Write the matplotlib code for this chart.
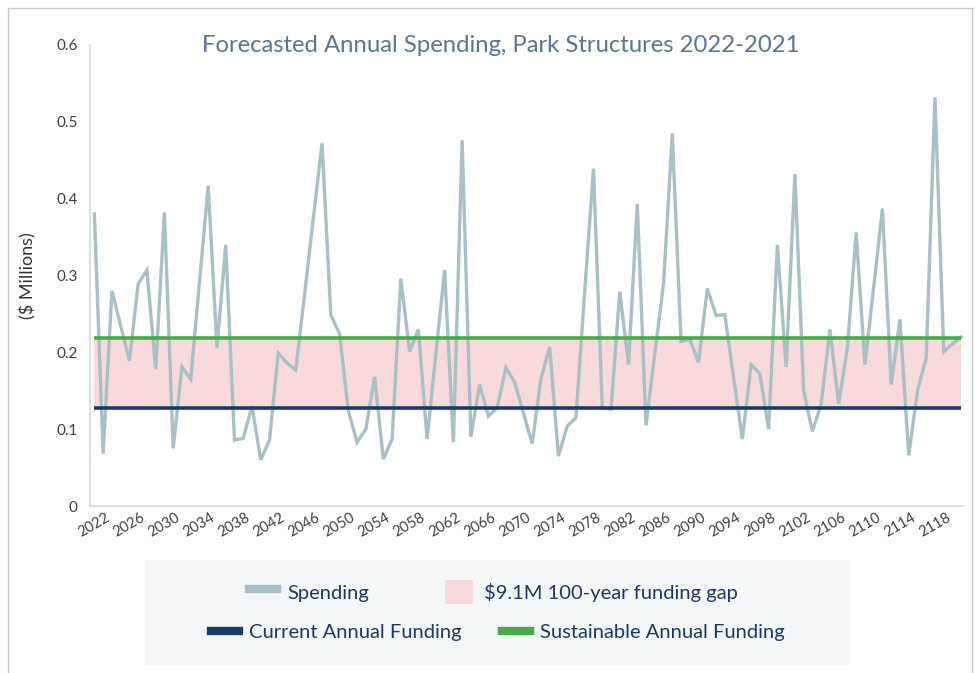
import matplotlib as mpl

mpl.use('Agg')
import matplotlib.pyplot as plt
from matplotlib.lines import Line2D
from matplotlib.patches import Patch, Rectangle
import numpy as np

#### Data ####
years = list(range(2022, 2122))
spending = [0.380, 0.068, 0.280, 0.235, 0.189, 0.289, 0.307, 0.178, 0.382, 0.075,
            0.181, 0.165, 0.291, 0.417, 0.206, 0.340, 0.086, 0.088, 0.130, 0.060,
            0.086, 0.199, 0.186, 0.177, 0.275, 0.374, 0.472, 0.249, 0.224, 0.124,
            0.083, 0.100, 0.168, 0.061, 0.087, 0.296, 0.201, 0.230, 0.087, 0.198,
            0.307, 0.083, 0.476, 0.090, 0.158, 0.117, 0.128, 0.180, 0.161, 0.121,
            0.081, 0.166, 0.207, 0.065, 0.104, 0.115, 0.280, 0.439, 0.128, 0.126,
            0.279, 0.184, 0.393, 0.105, 0.198, 0.289, 0.485, 0.214, 0.217, 0.187,
            0.283, 0.248, 0.249, 0.167, 0.087, 0.184, 0.172, 0.100, 0.340, 0.181,
            0.432, 0.150, 0.097, 0.133, 0.230, 0.133, 0.206, 0.356, 0.184, 0.285,
            0.387, 0.158, 0.243, 0.066, 0.150, 0.193, 0.532, 0.201, 0.211, 0.220]
current_funding = 0.127
sustainable_funding = 0.219
x_ticks = list(range(2022, 2119, 4))
y_ticks = [0, 0.1, 0.2, 0.3, 0.4, 0.5, 0.6]
y_tick_labels = ["0", "0.1", "0.2", "0.3", "0.4", "0.5", "0.6"]

#### Styles ####
c_spend = "#A9C0C6"
c_gap = "#F8D9DC"
c_current = "#1B3A66"
c_sustain = "#48A947"
c_text = "#1F3864"
plt.rcParams['font.family'] = ['Lato', 'DejaVu Sans']

W, H = 975, 673
fig = plt.figure(figsize=(W / 100, H / 100), dpi=100)
ax = fig.add_axes([90 / W, 1 - 506 / H, (963 - 90) / W, (506 - 45) / H])

ax.fill_between(years, current_funding, sustainable_funding, color=c_gap, lw=0, zorder=1)
ax.plot(years, spending, color=c_spend, lw=2.4, zorder=2, solid_joinstyle='miter')
ax.hlines(sustainable_funding, years[0], years[-1], color=c_sustain, lw=2.6, zorder=3)
ax.hlines(current_funding, years[0], years[-1], color=c_current, lw=2.6, zorder=3)

ax.set_xlim(2021.5, 2121.2)
ax.set_ylim(0, 0.6)
ax.set_xticks(x_ticks)
ax.set_xticklabels([str(t) for t in x_ticks], rotation=30, ha='center',
                   fontsize=10.5, color="#404040")
ax.set_yticks(y_ticks)
ax.set_yticklabels(y_tick_labels, fontsize=11, color="#404040")
ax.tick_params(length=0, pad=9)
ax.tick_params(axis='x', pad=3)
for s in ['top', 'right']:
    ax.spines[s].set_visible(False)
for s in ['left', 'bottom']:
    ax.spines[s].set_color("#D9D9D9")
    ax.spines[s].set_linewidth(1.2)

ax.set_ylabel("($ Millions)", fontsize=13, color="#333333", labelpad=14)
fig.text(501 / W, 1 - 46 / H, "Forecasted Annual Spending, Park Structures 2022-2021",
         ha='center', va='center', fontsize=17.2, color="#5A7595")

# legend box
fig.patches.append(Rectangle((145 / W, 1 - 665 / H), (850 - 145) / W, (665 - 560) / H,
                             transform=fig.transFigure, facecolor="#F3F7F8",
                             edgecolor='none', zorder=0))
# outer frame
fig.add_artist(Line2D([8 / W, 8 / W], [0, 1 - 8 / H], transform=fig.transFigure,
                      color="#C8C8C8", lw=1))
fig.add_artist(Line2D([8 / W, 972 / W], [1 - 8 / H, 1 - 8 / H], transform=fig.transFigure,
                      color="#C8C8C8", lw=1))
fig.add_artist(Line2D([972 / W, 972 / W], [0, 1 - 8 / H], transform=fig.transFigure,
                      color="#C8C8C8", lw=1))

row1 = [Line2D([0], [0], color=c_spend, lw=6, label="Spending"),
        Patch(facecolor=c_gap, edgecolor='none', label="$9.1M 100-year funding gap")]
row2 = [Line2D([0], [0], color=c_current, lw=6, label="Current Annual Funding"),
        Line2D([0], [0], color=c_sustain, lw=6, label="Sustainable Annual Funding")]
leg1 = fig.legend(handles=row1, loc='center', bbox_to_anchor=(493 / W, 1 - 592 / H),
                  ncol=2, frameon=False, fontsize=14.5, handlelength=1.4,
                  handleheight=1.5, handletextpad=0.5, columnspacing=3.8)
for t in leg1.get_texts():
    t.set_color(c_text)
leg2 = fig.legend(handles=row2, loc='center', bbox_to_anchor=(498 / W, 1 - 632 / H),
                  ncol=2, frameon=False, fontsize=14.5, handlelength=1.4,
                  handletextpad=0.5, columnspacing=2.0)
for t in leg2.get_texts():
    t.set_color(c_text)

plt.savefig("out.png", dpi=100)
